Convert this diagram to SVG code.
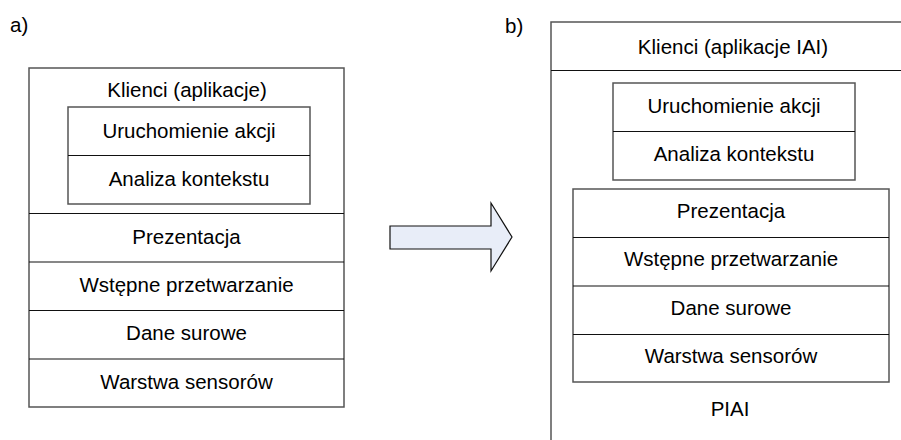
<svg xmlns="http://www.w3.org/2000/svg" width="901" height="440" viewBox="0 0 901 440">
  <style>
    text { font-family: "Liberation Sans", Arial, sans-serif; font-size: 20.5px; fill: #000; text-anchor: middle; }
    text.tag { text-anchor: start; }
    .frame { fill: #fff; stroke: #555; stroke-width: 1.5; }
    .div { stroke: #111; stroke-width: 1.2; fill: none; }
    .arrow { fill: #e8edf8; stroke: #111; stroke-width: 1.2; stroke-linejoin: miter; }
  </style>
  <rect width="901" height="440" fill="#fff"/>

  <!-- a) original layer stack -->
  <text class="tag" x="10" y="32">a)</text>
  <g id="a-stack">
    <rect class="frame" x="29" y="68" width="315" height="339"/>
    <line class="div" x1="29" y1="213.5" x2="344" y2="213.5"/>
    <line class="div" x1="29" y1="262" x2="344" y2="262"/>
    <line class="div" x1="29" y1="310.5" x2="344" y2="310.5"/>
    <line class="div" x1="29" y1="359" x2="344" y2="359"/>
  </g>
  <g id="a-klienci"><text x="187" y="97">Klienci (aplikacje)</text></g>
  <g id="a-inner">
    <rect class="frame" x="68" y="107" width="242" height="97"/>
    <line class="div" x1="68" y1="155.5" x2="310" y2="155.5"/>
  </g>
  <g id="a-uruchomienie"><text x="189" y="138">Uruchomienie akcji</text></g>
  <g id="a-analiza"><text x="189" y="186">Analiza kontekstu</text></g>
  <g id="a-prezentacja"><text x="186.5" y="244">Prezentacja</text></g>
  <g id="a-wstepne"><text x="186.5" y="292">Wstępne przetwarzanie</text></g>
  <g id="a-dane"><text x="186.5" y="340">Dane surowe</text></g>
  <g id="a-warstwa"><text x="186.5" y="389">Warstwa sensorów</text></g>

  <!-- transition arrow -->
  <g id="connectors">
    <polygon class="arrow" points="390,226 491,226 491,203 512,237 491,271 491,249 390,249"/>
  </g>

  <!-- b) PIAI layer stack -->
  <text class="tag" x="505" y="33">b)</text>
  <g id="b-piai">
    <rect class="frame" x="551" y="22" width="360" height="430"/>
    <line class="div" x1="551" y1="70.5" x2="901" y2="70.5"/>
    <text x="730" y="416">PIAI</text>
  </g>
  <g id="b-klienci"><text x="733" y="54">Klienci (aplikacje IAI)</text></g>
  <g id="b-inner">
    <rect class="frame" x="613" y="83" width="242" height="97"/>
    <line class="div" x1="613" y1="131.5" x2="855" y2="131.5"/>
  </g>
  <g id="b-uruchomienie"><text x="734" y="113">Uruchomienie akcji</text></g>
  <g id="b-analiza"><text x="734" y="161">Analiza kontekstu</text></g>
  <g id="b-stack">
    <rect class="frame" x="573" y="189" width="316" height="193"/>
    <line class="div" x1="573" y1="237.5" x2="889" y2="237.5"/>
    <line class="div" x1="573" y1="286" x2="889" y2="286"/>
    <line class="div" x1="573" y1="334.5" x2="889" y2="334.5"/>
  </g>
  <g id="b-prezentacja"><text x="731" y="218">Prezentacja</text></g>
  <g id="b-wstepne"><text x="731" y="266">Wstępne przetwarzanie</text></g>
  <g id="b-dane"><text x="731" y="315">Dane surowe</text></g>
  <g id="b-warstwa"><text x="731" y="363">Warstwa sensorów</text></g>
</svg>
